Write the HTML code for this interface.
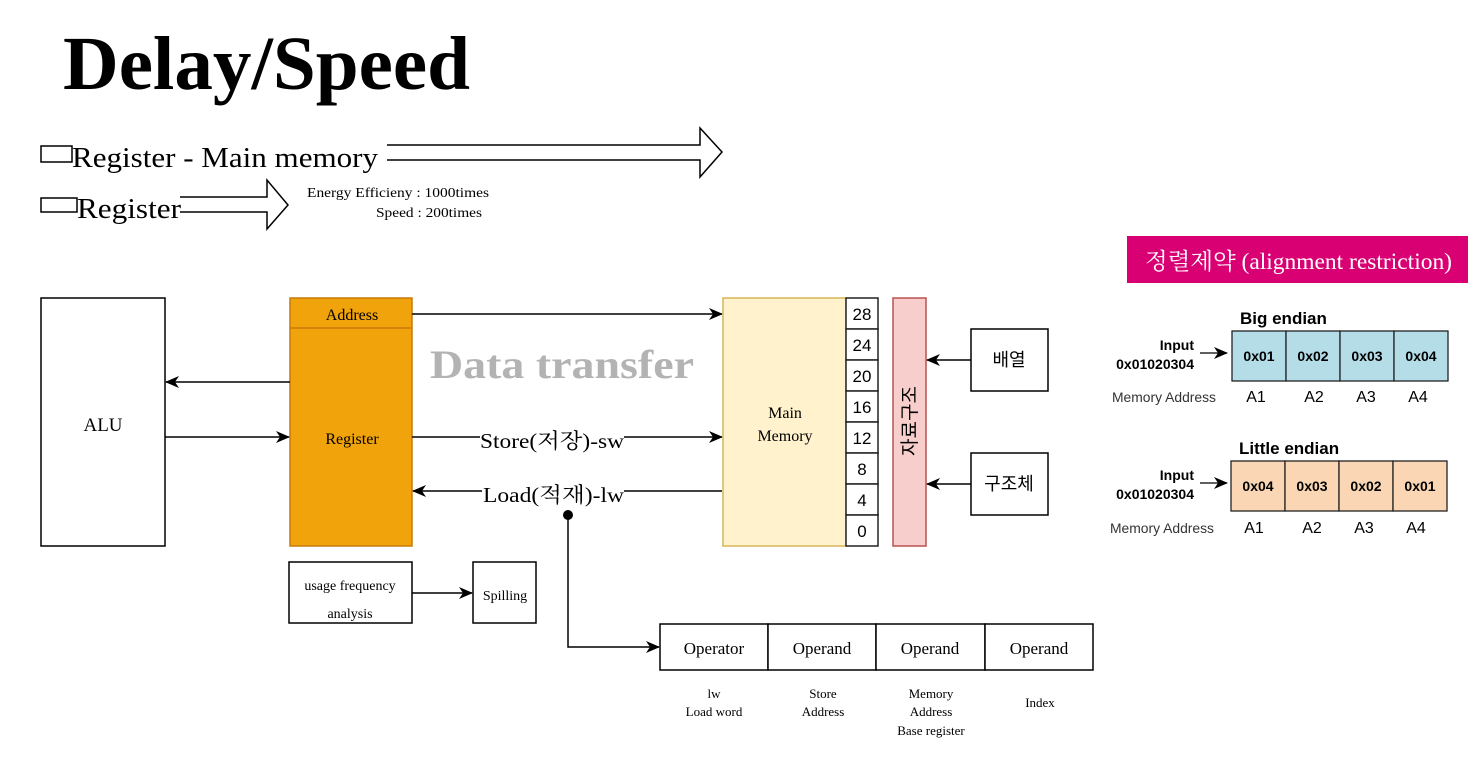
<!DOCTYPE html>
<html><head><meta charset="utf-8"><style>
html,body{margin:0;padding:0;background:#fff;width:1479px;height:757px;overflow:hidden}
svg text{font-family:"Liberation Serif","Noto Serif CJK SC","Noto Sans CJK KR",serif}
.s{font-family:"Liberation Sans","Noto Sans CJK KR",sans-serif !important}
</style></head><body>
<svg width="1479" height="757" viewBox="0 0 1479 757" xmlns="http://www.w3.org/2000/svg">
<defs>
<marker id="a" markerWidth="14" markerHeight="12" refX="13" refY="6" orient="auto" markerUnits="userSpaceOnUse"><path d="M0,0 L14,6 L0,12 L4,6 z" fill="#000"/></marker>
</defs>
<text x="63" y="89" font-size="76" font-weight="bold" textLength="407" lengthAdjust="spacingAndGlyphs">Delay/Speed</text>

<rect x="41" y="146" width="31" height="16" fill="none" stroke="#000" stroke-width="1.5"/>
<text x="72" y="167" font-size="29" textLength="306" lengthAdjust="spacingAndGlyphs">Register - Main memory</text>
<path d="M387,145 L700,145 L700,128 L722,152 L700,177 L700,160 L387,160" fill="none" stroke="#000" stroke-width="1.5"/>
<rect x="41" y="198" width="36" height="14" fill="none" stroke="#000" stroke-width="1.5"/>
<text x="77" y="218" font-size="29" textLength="104" lengthAdjust="spacingAndGlyphs">Register</text>
<path d="M180,197 L267,197 L267,180 L288,205 L267,229 L267,212 L180,212" fill="none" stroke="#000" stroke-width="1.5"/>
<text x="307" y="197" font-size="14" textLength="182" lengthAdjust="spacingAndGlyphs">Energy Efficieny : 1000times</text>
<text x="376" y="217" font-size="14" textLength="106" lengthAdjust="spacingAndGlyphs">Speed : 200times</text>

<rect x="41" y="298" width="124" height="248" fill="#fff" stroke="#000" stroke-width="1.5"/>
<text x="103" y="431" font-size="19" text-anchor="middle">ALU</text>

<rect x="290" y="298" width="122" height="248" fill="#f0a30a" stroke="#c77b0a" stroke-width="1.5"/>
<line x1="290" y1="328" x2="412" y2="328" stroke="#c77b0a" stroke-width="1.5"/>
<text x="352" y="320" font-size="16" text-anchor="middle">Address</text>
<text x="352" y="444" font-size="16" text-anchor="middle">Register</text>

<text x="430" y="378" font-size="40" font-weight="bold" fill="#b3b3b3" textLength="264" lengthAdjust="spacingAndGlyphs">Data transfer</text>

<line x1="412" y1="314" x2="722" y2="314" stroke="#000" stroke-width="1.5" marker-end="url(#a)"/>
<line x1="290" y1="382" x2="166" y2="382" stroke="#000" stroke-width="1.5" marker-end="url(#a)"/>
<line x1="165" y1="437" x2="289" y2="437" stroke="#000" stroke-width="1.5" marker-end="url(#a)"/>
<line x1="412" y1="437" x2="722" y2="437" stroke="#000" stroke-width="1.5" marker-end="url(#a)"/>
<rect x="480" y="426" width="144" height="22" fill="#fff"/>
<text x="480" y="448" font-size="21" textLength="144" lengthAdjust="spacingAndGlyphs">Store(저장)-sw</text>
<line x1="722" y1="491" x2="413" y2="491" stroke="#000" stroke-width="1.5" marker-end="url(#a)"/>
<rect x="482" y="480" width="142" height="22" fill="#fff"/>
<text x="483" y="502" font-size="21" textLength="141" lengthAdjust="spacingAndGlyphs">Load(적재)-lw</text>
<circle cx="568" cy="515" r="5" fill="#000"/>
<path d="M568,515 L568,647 L659,647" fill="none" stroke="#000" stroke-width="1.5" marker-end="url(#a)"/>

<rect x="723" y="298" width="123" height="248" fill="#fff2cc" stroke="#d6b656" stroke-width="1.5"/>
<text x="785" y="418" font-size="16" text-anchor="middle">Main</text>
<text x="785" y="441" font-size="16" text-anchor="middle">Memory</text>
<g stroke="#222" stroke-width="1.5">
<rect x="846" y="298" width="32" height="31" fill="#fff"/>
<rect x="846" y="329" width="32" height="31" fill="#fff"/>
<rect x="846" y="360" width="32" height="31" fill="#fff"/>
<rect x="846" y="391" width="32" height="31" fill="#fff"/>
<rect x="846" y="422" width="32" height="31" fill="#fff"/>
<rect x="846" y="453" width="32" height="31" fill="#fff"/>
<rect x="846" y="484" width="32" height="31" fill="#fff"/>
<rect x="846" y="515" width="32" height="31" fill="#fff"/>
</g>
<g font-size="17" text-anchor="middle" fill="#000">
<text class="s" x="862" y="320">28</text><text class="s" x="862" y="351">24</text>
<text class="s" x="862" y="382">20</text><text class="s" x="862" y="413">16</text>
<text class="s" x="862" y="444">12</text><text class="s" x="862" y="475">8</text>
<text class="s" x="862" y="506">4</text><text class="s" x="862" y="537">0</text>
</g>
<rect x="893" y="298" width="33" height="248" fill="#f8cecc" stroke="#b85450" stroke-width="1.5"/>
<text class="s" x="0" y="0" font-size="19" text-anchor="middle" transform="translate(916,421) rotate(-90)">자료구조</text>

<rect x="971" y="329" width="77" height="62" fill="#fff" stroke="#000" stroke-width="1.5"/>
<text class="s" x="1009" y="366" font-size="18" text-anchor="middle">배열</text>
<line x1="971" y1="360" x2="927" y2="360" stroke="#000" stroke-width="1.5" marker-end="url(#a)"/>
<rect x="971" y="453" width="77" height="62" fill="#fff" stroke="#000" stroke-width="1.5"/>
<text class="s" x="1009" y="490" font-size="18" text-anchor="middle">구조체</text>
<line x1="971" y1="484" x2="927" y2="484" stroke="#000" stroke-width="1.5" marker-end="url(#a)"/>

<rect x="289" y="562" width="123" height="61" fill="#fff" stroke="#000" stroke-width="1.5"/>
<text x="350" y="590" font-size="14" text-anchor="middle">usage frequency</text>
<text x="350" y="618" font-size="14" text-anchor="middle">analysis</text>
<line x1="412" y1="593" x2="472" y2="593" stroke="#000" stroke-width="1.5" marker-end="url(#a)"/>
<rect x="473" y="562" width="63" height="61" fill="#fff" stroke="#000" stroke-width="1.5"/>
<text x="505" y="600" font-size="14" text-anchor="middle">Spilling</text>

<g stroke="#000" stroke-width="1.5" fill="#fff">
<rect x="660" y="624" width="108" height="46"/><rect x="768" y="624" width="108" height="46"/>
<rect x="876" y="624" width="109" height="46"/><rect x="985" y="624" width="108" height="46"/>
</g>
<g font-size="17" text-anchor="middle">
<text x="714" y="654">Operator</text><text x="822" y="654">Operand</text>
<text x="930" y="654">Operand</text><text x="1039" y="654">Operand</text>
</g>
<g font-size="13" text-anchor="middle">
<text x="714" y="698">lw</text><text x="714" y="716">Load word</text>
<text x="823" y="698">Store</text><text x="823" y="716">Address</text>
<text x="931" y="698">Memory</text><text x="931" y="716">Address</text><text x="931" y="735">Base register</text>
<text x="1040" y="707">Index</text>
</g>

<rect x="1127" y="236" width="341" height="47" fill="#d80073"/>
<text x="1145" y="269" font-size="23" fill="#fff" textLength="307" lengthAdjust="spacingAndGlyphs">정렬제약 (alignment restriction)</text>

<text class="s" x="1240" y="324" font-size="17" font-weight="bold">Big endian</text>
<text class="s" x="1194" y="350" font-size="14" font-weight="bold" text-anchor="end">Input</text>
<text class="s" x="1194" y="369" font-size="14" font-weight="bold" text-anchor="end">0x01020304</text>
<line x1="1200" y1="353" x2="1227" y2="353" stroke="#000" stroke-width="1.2" marker-end="url(#a)"/>
<g stroke="#222" stroke-width="1.3" fill="#b4dde8">
<rect x="1232" y="331" width="54" height="50"/><rect x="1286" y="331" width="54" height="50"/>
<rect x="1340" y="331" width="54" height="50"/><rect x="1394" y="331" width="54" height="50"/>
</g>
<g font-size="14" font-weight="bold" text-anchor="middle">
<text class="s" x="1259" y="361">0x01</text><text class="s" x="1313" y="361">0x02</text>
<text class="s" x="1367" y="361">0x03</text><text class="s" x="1421" y="361">0x04</text>
</g>
<text class="s" x="1112" y="402" font-size="13.5" fill="#333" textLength="104" lengthAdjust="spacingAndGlyphs">Memory Address</text>
<g font-size="16" text-anchor="middle">
<text class="s" x="1256" y="402">A1</text><text class="s" x="1314" y="402">A2</text>
<text class="s" x="1366" y="402">A3</text><text class="s" x="1418" y="402">A4</text>
</g>

<text class="s" x="1239" y="454" font-size="17" font-weight="bold">Little endian</text>
<text class="s" x="1194" y="480" font-size="14" font-weight="bold" text-anchor="end">Input</text>
<text class="s" x="1194" y="499" font-size="14" font-weight="bold" text-anchor="end">0x01020304</text>
<line x1="1200" y1="483" x2="1227" y2="483" stroke="#000" stroke-width="1.2" marker-end="url(#a)"/>
<g stroke="#222" stroke-width="1.3" fill="#fad6b4">
<rect x="1231" y="461" width="54" height="50"/><rect x="1285" y="461" width="54" height="50"/>
<rect x="1339" y="461" width="54" height="50"/><rect x="1393" y="461" width="54" height="50"/>
</g>
<g font-size="14" font-weight="bold" text-anchor="middle">
<text class="s" x="1258" y="491">0x04</text><text class="s" x="1312" y="491">0x03</text>
<text class="s" x="1366" y="491">0x02</text><text class="s" x="1420" y="491">0x01</text>
</g>
<text class="s" x="1110" y="533" font-size="13.5" fill="#333" textLength="104" lengthAdjust="spacingAndGlyphs">Memory Address</text>
<g font-size="16" text-anchor="middle">
<text class="s" x="1254" y="533">A1</text><text class="s" x="1312" y="533">A2</text>
<text class="s" x="1364" y="533">A3</text><text class="s" x="1416" y="533">A4</text>
</g>
</svg>
</body></html>
